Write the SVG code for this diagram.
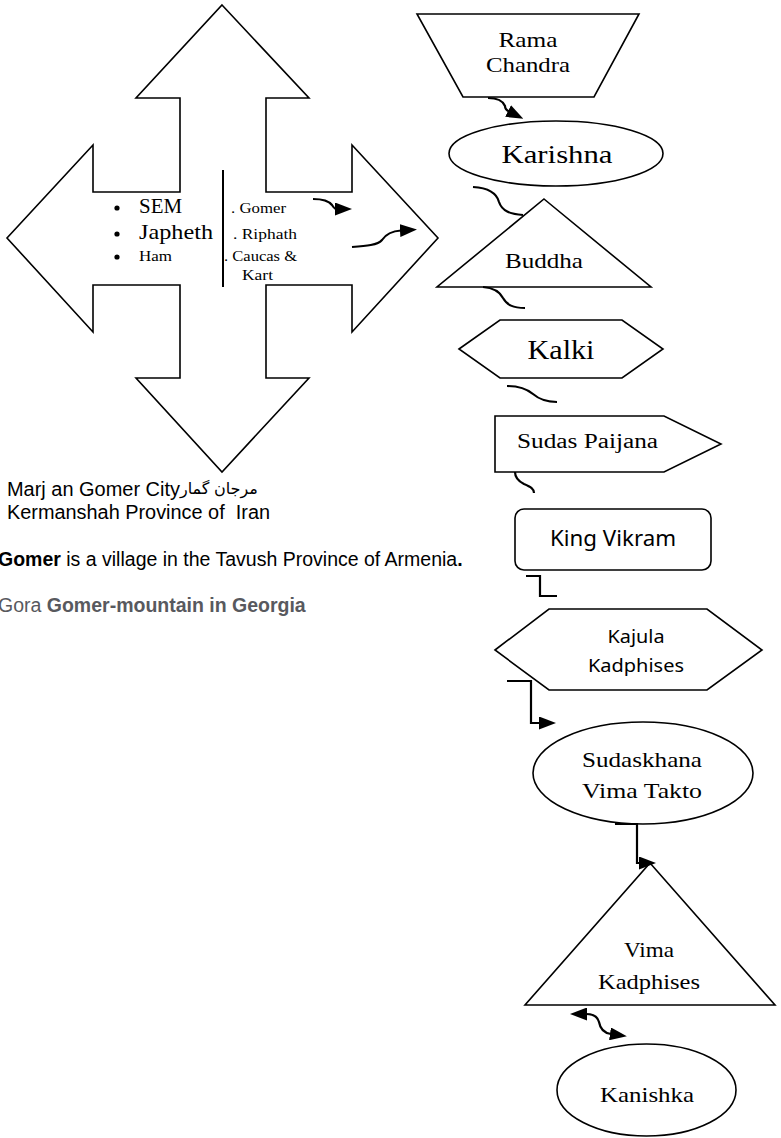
<svg xmlns="http://www.w3.org/2000/svg" width="781" height="1138" viewBox="0 0 781 1138">
<style>
.shape{fill:#fff;stroke:#000;stroke-width:1.6;stroke-linejoin:miter}
.conn{fill:none;stroke:#000;stroke-width:2.2}
.serif{font-family:"Liberation Serif","Times New Roman",serif;fill:#000}
.calib{font-family:"Noto Sans","Open Sans",sans-serif;fill:#000}
.arial{font-family:"Liberation Sans",Arial,"DejaVu Sans",sans-serif;fill:#000}
.gray{fill:#58595e}
</style>
<defs>
<marker id="ah" viewBox="0 0 17 13" refX="1" refY="6.5" markerWidth="17" markerHeight="13" markerUnits="userSpaceOnUse" orient="auto-start-reverse">
<path d="M0,0 L17,6.5 L0,13 Z" fill="#000"/>
</marker>
</defs>
<rect width="781" height="1138" fill="#fff"/>

<g id="cross">
<polygon class="shape" points="222,5 309,98 266,98 266,192 352,192 352,145 438,238 352,332 352,285 266,285 266,378 309,378 222,472 136,378 180,378 180,285 93,285 93,332 7,238 93,145 93,192 180,192 180,98 136,98"/>
<line x1="223" y1="170" x2="223" y2="287" stroke="#000" stroke-width="2"/>
<circle cx="117" cy="208" r="2.6"/>
<circle cx="117" cy="234" r="2.6"/>
<circle cx="117" cy="257" r="2.6"/>
<text class="serif" x="139" y="213" font-size="20" textLength="43" lengthAdjust="spacingAndGlyphs">SEM</text>
<text class="serif" x="139" y="239" font-size="21" textLength="74" lengthAdjust="spacingAndGlyphs">Japheth</text>
<text class="serif" x="139" y="261" font-size="15.5" textLength="33" lengthAdjust="spacingAndGlyphs">Ham</text>
<text class="serif" x="231" y="213" font-size="14" textLength="55" lengthAdjust="spacingAndGlyphs">. Gomer</text>
<text class="serif" x="233" y="239" font-size="14" textLength="64" lengthAdjust="spacingAndGlyphs">. Riphath</text>
<text class="serif" x="224" y="261" font-size="14" textLength="73" lengthAdjust="spacingAndGlyphs">. Caucas &amp;</text>
<text class="serif" x="242" y="280" font-size="14" textLength="31" lengthAdjust="spacingAndGlyphs">Kart</text>
</g>

<g id="notes">
<text class="arial" x="7" y="496" font-size="19.5" textLength="173" lengthAdjust="spacingAndGlyphs">Marj an Gomer City</text>
<text class="arial" x="180" y="494" font-size="16">مرجان گمار</text>
<text class="arial" x="7" y="519" font-size="19.5" textLength="263" lengthAdjust="spacingAndGlyphs">Kermanshah Province of&#160; Iran</text>
<text class="arial" x="-2" y="566" font-size="19.5"><tspan font-weight="bold">Gomer</tspan> is a village in the Tavush Province of Armenia<tspan font-weight="bold">.</tspan></text>
<text class="arial gray" x="-2" y="612" font-size="19.5">Gora <tspan font-weight="bold">Gomer-mountain in Georgia</tspan></text>
</g>

<g id="rama">
<polygon class="shape" points="417,14 639,14 594,97 463,97"/>
<text class="serif" x="528" y="47" font-size="22" text-anchor="middle" textLength="59" lengthAdjust="spacingAndGlyphs">Rama</text>
<text class="serif" x="528" y="72" font-size="22" text-anchor="middle" textLength="84" lengthAdjust="spacingAndGlyphs">Chandra</text>
</g>

<g id="karishna">
<ellipse class="shape" cx="556" cy="153.5" rx="107" ry="32.5"/>
<text class="serif" x="557" y="163" font-size="25" text-anchor="middle" textLength="111" lengthAdjust="spacingAndGlyphs">Karishna</text>
</g>

<g id="buddha">
<polygon class="shape" points="544,199 651,287 437,287"/>
<text class="serif" x="544" y="268" font-size="21" text-anchor="middle" textLength="78" lengthAdjust="spacingAndGlyphs">Buddha</text>
</g>

<g id="kalki">
<polygon class="shape" points="459,349 500,320 622,320 663,349 622,378 500,378"/>
<text class="serif" x="561" y="359" font-size="27" text-anchor="middle" textLength="67" lengthAdjust="spacingAndGlyphs">Kalki</text>
</g>

<g id="sudas">
<polygon class="shape" points="495,416 664,416 721,444 664,472 495,472"/>
<text class="serif" x="517" y="448" font-size="20" textLength="141" lengthAdjust="spacingAndGlyphs">Sudas Paijana</text>
</g>

<g id="vikram">
<rect class="shape" x="515" y="509" width="196" height="61" rx="9" ry="9"/>
<text class="calib" x="613" y="546" font-size="21" text-anchor="middle" textLength="126" lengthAdjust="spacingAndGlyphs">King Vikram</text>
</g>

<g id="kajula">
<polygon class="shape" points="495,650 549,609 707,609 762,650 707,690 549,690"/>
<text class="calib" x="636" y="643" font-size="18" text-anchor="middle" textLength="57" lengthAdjust="spacingAndGlyphs">Kajula</text>
<text class="calib" x="636" y="672" font-size="18" text-anchor="middle" textLength="96" lengthAdjust="spacingAndGlyphs">Kadphises</text>
</g>

<g id="sudaskhana">
<ellipse class="shape" cx="643" cy="773" rx="110" ry="51"/>
<text class="serif" x="642" y="767" font-size="21" text-anchor="middle" textLength="120" lengthAdjust="spacingAndGlyphs">Sudaskhana</text>
<text class="serif" x="642" y="798" font-size="21" text-anchor="middle" textLength="120" lengthAdjust="spacingAndGlyphs">Vima Takto</text>
</g>

<g id="vima">
<polygon class="shape" points="650,863 775,1005 525,1005"/>
<text class="serif" x="649" y="957" font-size="21" text-anchor="middle" textLength="50" lengthAdjust="spacingAndGlyphs">Vima</text>
<text class="serif" x="649" y="989" font-size="21" text-anchor="middle" textLength="102" lengthAdjust="spacingAndGlyphs">Kadphises</text>
</g>

<g id="kanishka">
<ellipse class="shape" cx="646.5" cy="1090" rx="89.5" ry="46"/>
<text class="serif" x="647" y="1102" font-size="22" text-anchor="middle" textLength="94" lengthAdjust="spacingAndGlyphs">Kanishka</text>
</g>

<g id="connectors">
<path class="conn" d="M313,199 C323,199 329,201 332,205 C334,208 335,209 336,209" marker-end="url(#ah)"/>
<path class="conn" d="M352,247 C366,246 378,245 382,240 C386,234 392,231 401,230.5" marker-end="url(#ah)"/>
<path class="conn" d="M488,98 C498,98 503,101 505,106 C505,108 506,110 509,111.5" marker-end="url(#ah)"/>
<path class="conn" d="M473,187 C490,188 497,194 499,202 C502,211 510,214 523,215"/>
<path class="conn" d="M483,287 C495,288 500,292 503,298 C507,305 513,308 525,308"/>
<path class="conn" d="M507,386 C520,386 527,389 533,394 C539,399 545,402 557,402"/>
<path class="conn" d="M515,472 C515,478 518,481 524,484 C531,487 534,489 534,493"/>
<path class="conn" d="M526,576 H540 V596 H557"/>
<path class="conn" d="M507,681 H531 V723 H540" marker-end="url(#ah)"/>
<path class="conn" d="M615,824 H637 V863 H640" marker-end="url(#ah)"/>
<path class="conn" d="M586,1014 C595,1014 598,1018 599,1022 C600,1028 604,1033 611,1034" marker-start="url(#ah)" marker-end="url(#ah)"/>
</g>
</svg>
